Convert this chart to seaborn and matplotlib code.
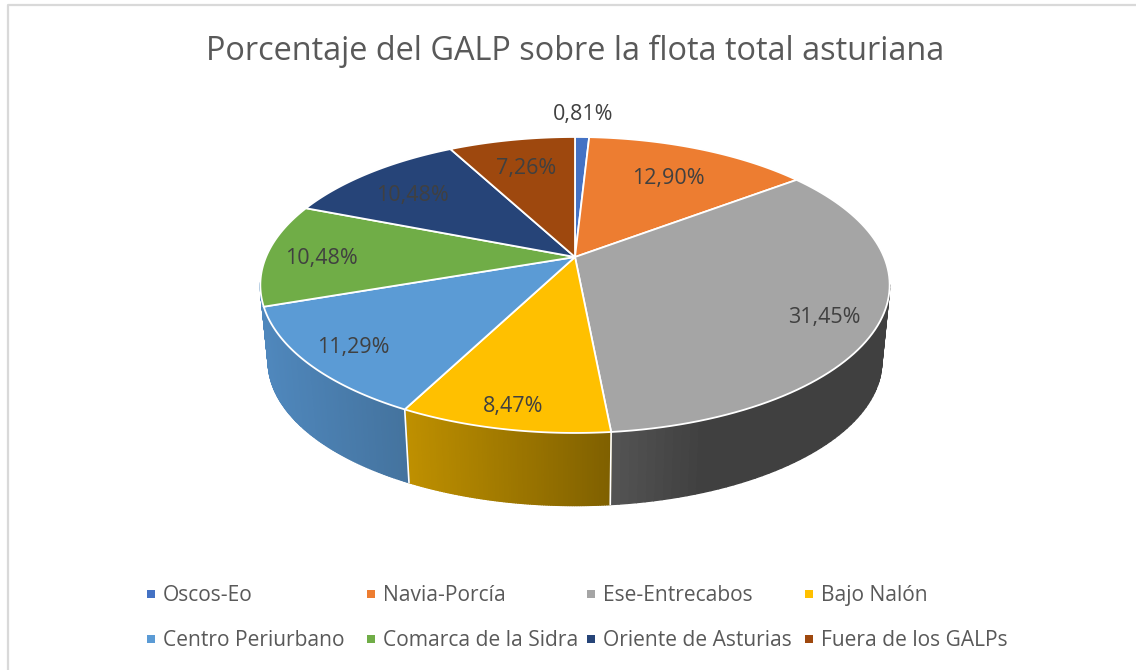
import matplotlib

matplotlib.use("Agg")

import matplotlib.pyplot as plt
import numpy as np
import seaborn as sns
from matplotlib.collections import PolyCollection

TITLE = "Porcentaje del GALP sobre la flota total asturiana"
REGIONS = [
    "Oscos-Eo",
    "Navia-Porcía",
    "Ese-Entrecabos",
    "Bajo Nalón",
    "Centro Periurbano",
    "Comarca de la Sidra",
    "Oriente de Asturias",
    "Fuera de los GALPs",
]
SHARES = [0.81, 12.90, 31.45, 8.47, 11.29, 10.48, 10.48, 7.26]
TOP_COLORS = ["#4472C4", "#ED7D31", "#A5A5A5", "#FFC000", "#5B9BD5", "#70AD47", "#264478", "#9E480E"]
WALL_STOPS = [
    ["#2F528F", "#2F528F"],
    ["#A85A22", "#A85A22"],
    ["#555555", "#404040", "#404040", "#404040"],
    ["#BF9000", "#7F6000"],
    ["#4F87BC", "#44739E"],
    ["#4F87BC", "#4F87BC"],
    ["#1C3359", "#1C3359"],
    ["#76360A", "#76360A"],
]
LABEL_RADII = [1.25, 0.72, 0.84, 0.88, 0.85, 0.82, 0.75, 0.74]
LABEL_TURN = [0, 0, 3, 0, 0, -1, -1.5, 0]

# perspective of the tilted disc, in image pixels
CX, CY = 575, 257
BX, AY, K = 309, 142.7, 0.189
DEPTH_SCALE, DEPTH_CY = 0.975, 334


def project(theta, r=1.0, scale=1.0, cy=CY):
    x = r * np.sin(theta)
    y = r * np.cos(theta)
    den = 1 + K * y
    return CX + scale * BX * x / den, cy - scale * AY * y / den


def main() -> None:
    sns.set_theme(style="white")
    plt.rcParams["font.family"] = ["Open Sans", "DejaVu Sans"]

    fig = plt.figure(figsize=(11.36, 6.70), dpi=100, facecolor="white")
    ax = fig.add_axes([0, 0, 1, 1])

    palette = sns.color_palette(TOP_COLORS)
    edges = np.cumsum([0] + SHARES) / sum(SHARES) * 2 * np.pi

    # side walls as strips shaded by x, only the part facing the viewer
    for i, stops in enumerate(WALL_STOPS):
        arc = np.linspace(edges[i], edges[i + 1], 90)
        arc = arc[np.cos(arc) < -K + 0.02]
        if len(arc) < 2:
            continue
        tx, ty = project(arc)
        bx, by = project(arc, scale=DEPTH_SCALE, cy=DEPTH_CY)
        ramp = np.array(sns.blend_palette(stops, n_colors=128))
        strips = []
        shades = []
        for j in range(len(arc) - 1):
            strips.append([(tx[j], ty[j]), (tx[j + 1], ty[j + 1]), (bx[j + 1], by[j + 1]), (bx[j], by[j])])
            pos = (tx[j] - tx.min()) / (tx.max() - tx.min())
            shades.append(ramp[int(pos * 127)])
        ax.add_collection(PolyCollection(strips, facecolors=shades, edgecolors=shades, linewidths=1.0, zorder=2))
        # seam only where a slice really starts, none under the green sliver
        if arc[0] == edges[i] and i != 5:
            ax.plot([tx[0], bx[0]], [ty[0], by[0]], color="white", linewidth=1.2, zorder=3)

    for i, color in enumerate(palette):
        arc = np.linspace(edges[i], edges[i + 1], 80)
        tx, ty = project(arc)
        ax.fill(np.r_[CX, tx], np.r_[CY, ty], facecolor=color, edgecolor="white", linewidth=1.3, zorder=4)

    mids = (edges[:-1] + edges[1:]) / 2
    for mid, radius, turn, share in zip(mids, LABEL_RADII, LABEL_TURN, SHARES):
        lx, ly = project(mid + np.radians(turn), r=radius)
        ax.text(lx, ly + 2, f"{share:.2f}%".replace(".", ","), fontsize=15.5, color="#404040", ha="center", va="center", zorder=6)

    ax.text(575, 60, TITLE, fontsize=23.4, color="#595959", ha="center", va="baseline")

    # legend, four columns over two rows
    col_x = [151, 371, 591, 809]
    row_y = [594, 639]
    for i, (name, color) in enumerate(zip(REGIONS, palette)):
        mx, my = col_x[i % 4], row_y[i // 4]
        ax.scatter([mx], [my], marker="s", s=34, color=color, linewidths=0, zorder=5)
        ax.text(mx + 12, my + 7, name, fontsize=15.1, color="#595959", ha="left", va="baseline")

    ax.plot([8, 8, 1136], [670, 5, 5], color="#D9D9D9", linewidth=1.6, zorder=1)

    ax.set_xlim(0, 1136)
    ax.set_ylim(670, 0)
    ax.axis("off")
    fig.savefig("out.png", dpi=100)
    plt.close(fig)


if __name__ == "__main__":
    main()
